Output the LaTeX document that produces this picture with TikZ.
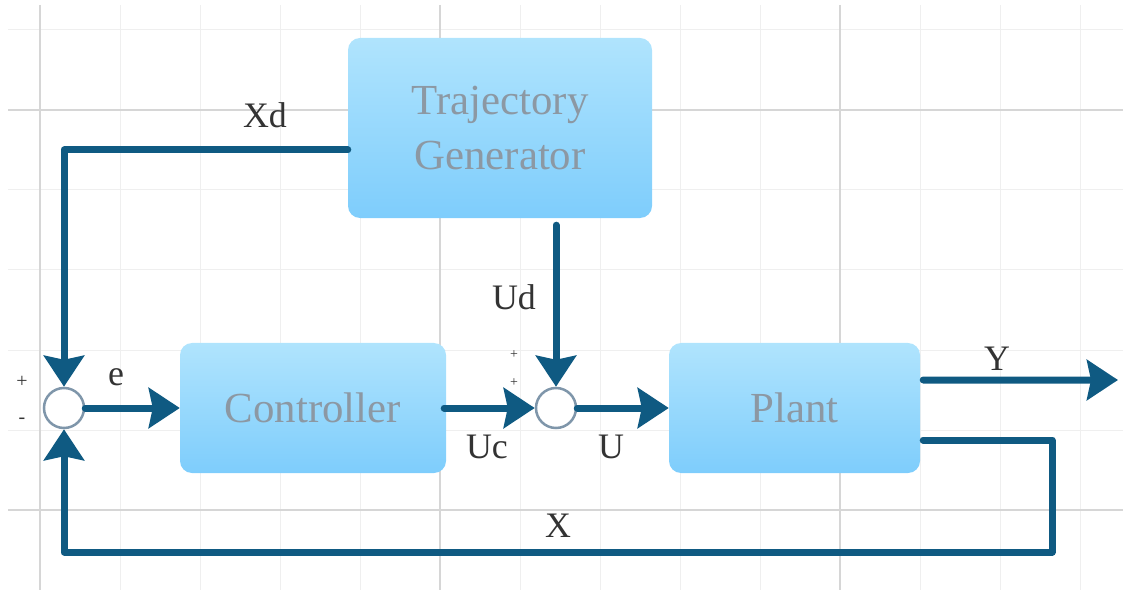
\documentclass[tikz,border=0pt]{standalone}
\usepackage{fontspec}
\setmainfont{Liberation Serif}
\usetikzlibrary{arrows.meta,calc}

\definecolor{wireblue}{HTML}{0F5A82}
\definecolor{boxtop}{HTML}{B0E4FD}
\definecolor{boxbot}{HTML}{7ECDFC}
\definecolor{boxtext}{HTML}{8C98A3}
\definecolor{ringgray}{HTML}{7F96AA}
\definecolor{labelgray}{HTML}{333333}
\definecolor{gridminor}{HTML}{EFEFEF}
\definecolor{gridmajor}{HTML}{D6D6D6}

\tikzset{
  block/.style={rectangle, rounded corners=12bp, inner sep=0pt,
    top color=boxtop, bottom color=boxbot, draw=none,
    text=boxtext, font=\fontsize{43}{56}\selectfont, align=center},
  sumjunction/.style={circle, draw=ringgray, line width=2.5bp, fill=white,
    minimum size=40bp, inner sep=0pt},
  wire/.style={draw=wireblue, line width=7bp, line cap=round, line join=round},
  flow/.style={wire, -{Stealth[length=31bp,width=40bp,inset=4bp]}},
  sig/.style={text=labelgray, font=\fontsize{36}{40}\selectfont, anchor=base, inner sep=0pt},
  sign/.style={text=labelgray, inner sep=0pt}
}

\begin{document}
\begin{tikzpicture}[x=1bp, y=-1bp]
  \useasboundingbox (0,0) rectangle (1130,590);

  % background grid
  \foreach \gx in {120,200,280,360,520,600,680,760,920,1000,1080}
    \draw[gridminor, line width=1bp] (\gx,5) -- (\gx,590);
  \foreach \gy in {30,190,270,350,430,590}
    \draw[gridminor, line width=1bp] (8,\gy) -- (1123,\gy);
  \foreach \gx in {40,440,840}
    \draw[gridmajor, line width=1.2bp] (\gx,5) -- (\gx,590);
  \foreach \gy in {110,510}
    \draw[gridmajor, line width=1.2bp] (8,\gy) -- (1123,\gy);

  % blocks
  \node[block, minimum width=304bp, minimum height=180bp] (tg) at (500,128)
    {Trajectory\\Generator};
  \node[block, minimum width=266bp, minimum height=130bp] (ctrl) at (313,408)
    {\raisebox{-4bp}{Controller}};
  \node[block, minimum width=251bp, minimum height=130bp] (plant) at (794.5,408)
    {\raisebox{-3bp}{Plant}};

  % summing junctions
  \node[sumjunction] (s1) at (64,408) {};
  \node[sumjunction] (s2) at (556,408) {};

  % free ends
  \coordinate (yout) at (1118,380);
  \coordinate (xcorner) at (1052,552);

  % signal paths
  \draw[flow] ([yshift=-22bp]tg.west) -| (s1.north);
  \draw[flow] ([yshift=-7bp]tg.south -| s2.north) -- (s2.north);
  \draw[flow] (s1.east) -- (ctrl.west);
  \draw[flow] ([xshift=-2bp]ctrl.east) -- (s2.west);
  \draw[flow] (s2.east) -- (plant.west);
  \draw[flow] ([xshift=3bp,yshift=28bp]plant.east) -- (yout);
  \draw[flow] ([xshift=3bp,yshift=-32bp]plant.east) -| (xcorner) -| (s1.south);

  % signal labels
  \node[sig] (lxd) at (265,128) {Xd};
  \node[sig] (lud) at (514,310) {Ud};
  \node[sig] (le)  at (116,385) {e};
  \node[sig] (luc) at (487,458) {Uc};
  \node[sig] (lu)  at (611,458) {U};
  \node[sig] (ly)  at (997,370) {Y};
  \node[sig] (lx)  at (558,537) {X};

  % junction signs
  \node[sign, font=\fontsize{20}{22}\selectfont] (p1) at (22,382) {+};
  \node[sign, font=\fontsize{20}{22}\selectfont] (m1) at (22,421) {-};
  \node[sign, font=\fontsize{14}{16}\selectfont] (p2) at (514,355) {+};
  \node[sign, font=\fontsize{14}{16}\selectfont] (p3) at (514,383) {+};
\end{tikzpicture}
\end{document}
